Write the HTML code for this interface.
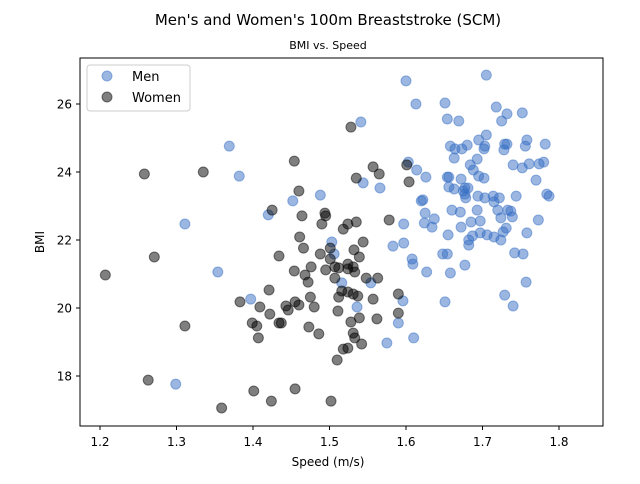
<!DOCTYPE html>
<html><head><meta charset="utf-8"><style>
body{margin:0;background:#fff;font-family:"DejaVu Sans","Liberation Sans",sans-serif}
</style></head><body>
<svg id="c" width="640" height="480" xmlns="http://www.w3.org/2000/svg" font-family="DejaVu Sans, Liberation Sans, sans-serif">
<rect width="640" height="480" fill="#fff"/>
<text x="328" y="25" font-size="15" text-anchor="middle">Men's and Women's 100m Breaststroke (SCM)</text>
<text x="328" y="49" font-size="11" text-anchor="middle">BMI vs. Speed</text>
<g id="marks"></g>
<g id="axes"></g>
<rect x="80" y="58" width="523" height="368" fill="none" stroke="#000" stroke-width="1"/>
<text x="328" y="466" font-size="12" text-anchor="middle">Speed (m/s)</text>
<text x="44" y="242" font-size="12" text-anchor="middle" transform="rotate(-90 44 242)">BMI</text>
<g>
<rect x="87" y="65" width="103" height="46" rx="3" fill="#fff" stroke="#ccc"/>
<circle cx="107" cy="76" r="5" fill="rgb(53,110,196)" fill-opacity="0.5" stroke="rgb(53,110,196)" stroke-opacity="0.5"/>
<text x="132" y="81" font-size="13">Men</text>
<circle cx="107" cy="97" r="5" fill="#000" fill-opacity="0.5" stroke="#000" stroke-opacity="0.5"/>
<text x="132" y="102" font-size="13">Women</text>
</g>
</svg>
<script>
const xTicks = [1.2,1.3,1.4,1.5,1.6,1.7,1.8];
const yTicks = [18,20,22,24,26];
const menSpeed = [1.369,1.382,1.311,1.354,1.299,1.420,1.397,1.452,1.488,1.541,1.544,1.566,1.503,1.506,1.516,1.554,1.536,1.583,1.597,1.597,1.608,1.609,1.596,1.590,1.575,1.610,1.603,1.614,1.626,1.620,1.622,1.625,1.624,1.627,
1.600,1.705,1.613,1.651,1.654,1.669,1.718,1.732,1.725,1.752,1.658,1.664,1.673,1.680,1.695,1.705,1.702,1.703,1.729,1.732,1.728,1.758,1.756,1.782,1.663,1.693,1.684,1.688,1.695,1.702,1.740,1.752,1.761,1.774,1.780,1.770,
1.654,1.656,1.672,1.656,1.663,1.677,1.681,1.675,1.677,1.678,1.694,1.703,1.714,1.715,1.722,1.744,1.784,1.787,1.634,1.637,1.660,1.671,1.693,1.720,1.733,1.737,1.739,1.724,1.773,1.685,1.697,1.672,1.655,
1.682,1.687,1.697,1.706,1.715,1.724,1.727,1.731,1.682,1.758,1.648,1.654,1.742,1.753,1.658,1.677,1.757,1.651,1.729,1.740];
const menBMI = [24.76,23.88,22.47,21.06,17.76,22.74,20.26,23.15,23.32,25.47,23.68,23.53,21.94,21.59,20.74,20.74,20.03,21.82,22.47,21.91,21.44,21.29,20.21,19.56,18.97,19.12,24.29,24.06,23.85,23.15,23.18,22.79,22.50,21.06,
26.68,26.85,26.00,26.03,25.56,25.50,25.91,25.71,25.50,25.74,24.76,24.68,24.68,24.79,24.94,25.09,24.68,24.76,24.82,24.82,24.65,24.94,24.76,24.82,24.41,24.38,24.21,24.06,23.88,23.82,24.21,24.12,24.24,24.24,24.29,23.76,
23.85,23.85,23.79,23.56,23.50,23.53,23.53,23.44,23.35,23.24,23.29,23.24,23.29,23.12,23.24,23.29,23.35,23.29,22.38,22.62,22.88,22.82,22.88,22.88,22.88,22.85,22.68,22.65,22.59,22.53,22.56,22.38,22.15,
22.00,22.12,22.21,22.15,22.09,22.00,22.24,22.35,21.85,22.21,21.59,21.59,21.62,21.59,21.03,21.26,20.76,20.18,20.38,20.06];
const womenSpeed = [1.258,1.335,1.425,1.271,1.207,1.434,1.421,1.383,1.409,1.422,1.399,1.405,1.407,1.311,1.263,1.401,1.424,1.359,1.434,
1.528,1.454,1.557,1.565,1.535,1.601,1.604,1.460,1.464,1.494,1.495,1.490,1.518,1.524,1.535,1.578,1.461,1.466,1.488,1.501,1.501,1.532,1.539,1.544,1.476,1.454,1.468,1.472,1.495,1.507,1.512,1.524,1.531,1.533,1.524,1.507,1.548,1.563,
1.516,1.524,1.531,1.537,1.512,1.475,1.557,1.590,1.443,1.446,1.455,1.460,1.480,1.511,1.590,1.539,1.562,1.437,1.528,1.473,1.486,1.531,1.533,1.542,1.518,1.524,1.510,1.455,1.502];
const womenBMI = [23.94,24.00,22.88,21.50,20.97,21.53,20.53,20.18,20.03,19.82,19.56,19.47,19.12,19.47,17.88,17.56,17.26,17.06,19.56,
25.32,24.32,24.15,23.94,23.82,24.21,23.71,23.44,22.71,22.79,22.71,22.47,22.32,22.47,22.53,22.59,22.09,21.76,21.59,21.76,21.44,21.71,21.50,21.94,21.21,21.09,20.97,20.76,21.12,21.21,21.18,21.29,21.21,21.06,21.15,20.88,20.88,20.88,
20.50,20.47,20.41,20.35,20.32,20.32,20.26,20.41,20.06,19.94,20.18,20.09,20.03,19.91,19.85,19.71,19.68,19.56,19.59,19.44,19.24,19.26,19.12,18.94,18.79,18.82,18.47,17.62,17.26];

const NS='http://www.w3.org/2000/svg';
const xs = v => 100 + (v - 1.2) * 765;
const ys = v => 376 - (v - 18) * 34;
const marks = document.getElementById('marks');
const axes = document.getElementById('axes');
function mk(tag, attrs, parent){const e=document.createElementNS(NS,tag);for(const k in attrs)e.setAttribute(k,attrs[k]);parent.appendChild(e);return e;}
menSpeed.forEach((v,i)=>{
  const c=mk('circle',{cx:xs(v),cy:ys(menBMI[i]),r:5,fill:'rgb(53,110,196)','fill-opacity':0.5,stroke:'rgb(53,110,196)','stroke-opacity':0.5},marks);
  
  
});
womenSpeed.forEach((v,i)=>{
  const c=mk('circle',{cx:xs(v),cy:ys(womenBMI[i]),r:5,fill:'#000','fill-opacity':0.5,stroke:'#000','stroke-opacity':0.5},marks);
  
  
});
xTicks.forEach(t=>{
  const x=xs(t);
  const l=mk('line',{x1:x,x2:x,y1:426,y2:430,stroke:'#000'},axes);
  
  
  const tx=mk('text',{x:x,y:446,'font-size':12,'text-anchor':'middle'},axes);
  tx.textContent=t.toFixed(1);
  
  
});
yTicks.forEach(t=>{
  const y=ys(t);
  const l=mk('line',{x1:76,x2:80,y1:y,y2:y,stroke:'#000'},axes);
  
  
  const tx=mk('text',{x:72,y:y+4.5,'font-size':12,'text-anchor':'end'},axes);
  tx.textContent=String(t);
  
  
});
</script>
</body></html>
